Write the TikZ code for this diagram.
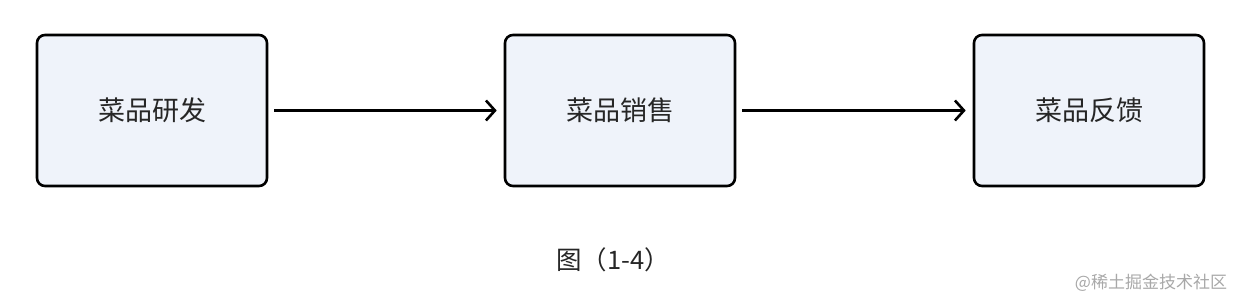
\documentclass[tikz,border=0pt]{standalone}
\usepackage{fontspec}
\newfontfamily\cjk{Noto Sans CJK SC}
\usetikzlibrary{arrows.meta}
\definecolor{boxfill}{HTML}{EFF3FA}
\definecolor{wm}{HTML}{A8A8A8}
\tikzset{
  stepbox/.style={draw=black, fill=boxfill, line width=2.6pt, rounded corners=8pt,
    minimum width=230pt, minimum height=151pt, inner sep=0pt, font=\cjk\fontsize{27}{32}\selectfont, text=black!85},
  flow/.style={line width=2.6pt, -{Straight Barb[length=9pt,width=20pt,line width=2.6pt]}}
}
\begin{document}
\begin{tikzpicture}[x=1pt,y=-1pt]
\useasboundingbox (0,0) rectangle (1239,300);
\node[stepbox] (a) at (152,110.5) {菜品研发};
\node[stepbox] (b) at (620,110.5) {菜品销售};
\node[stepbox] (c) at (1089,110.5) {菜品反馈};
\draw[flow] ([xshift=6pt]a.east) -- ([xshift=-7pt]b.west);
\draw[flow] ([xshift=6pt]b.east) -- ([xshift=-7pt]c.west);
\node[font=\cjk\fontsize{25.5}{30}\selectfont, text=black!85] (cap) at (613,260) {图（1-4）};
\node[font=\cjk\fontsize{17}{20}\selectfont, text=wm] (w) at (1151,283) {@稀土掘金技术社区};
\end{tikzpicture}
\end{document}
